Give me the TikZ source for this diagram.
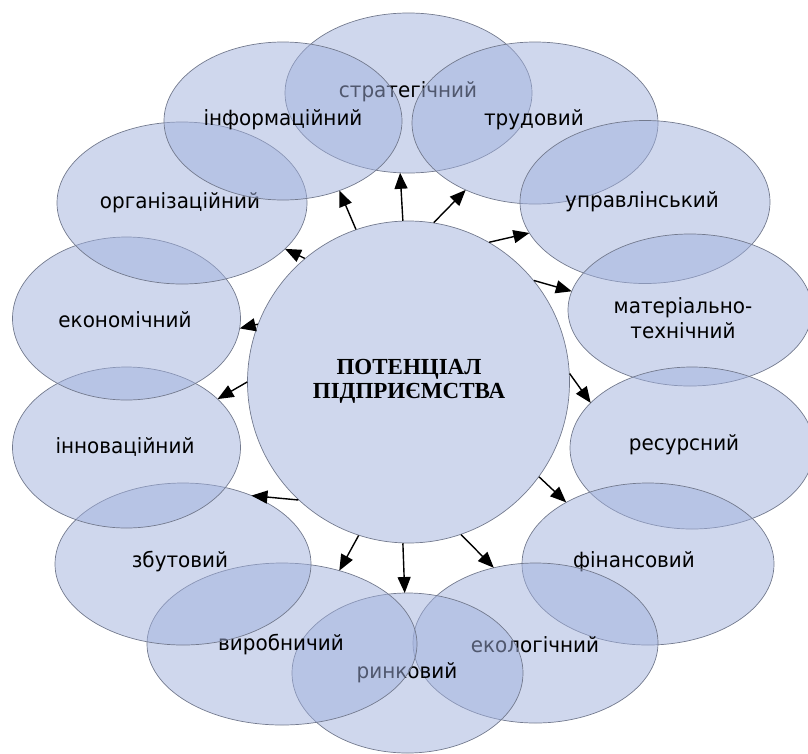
\documentclass[tikz,border=0pt]{standalone}
\usepackage{fontspec}
\setmainfont{DejaVu Sans}[FakeStretch=0.95]
\newfontfamily\titlefont{Liberation Serif}
\usetikzlibrary{shapes.geometric,arrows.meta}
\definecolor{ellfill}{RGB}{160,176,220}
\definecolor{ellline}{RGB}{115,122,142}
\begin{document}
\begin{tikzpicture}[x=1pt,y=-1pt,
  ell/.style={ellipse, draw=ellline, line width=0.7pt, fill=ellfill, fill opacity=0.5, inner sep=0pt, outer sep=0pt},
  lbl/.style={font=\fontsize{21}{25}\selectfont, text=black, align=center, inner sep=0pt},
  arr/.style={line width=1.4pt, -{Triangle[length=16pt,width=13pt]}}]
\useasboundingbox (0,0) rectangle (808,753);
% central circle
\node[circle, draw=ellline, line width=0.7pt, fill=ellfill, fill opacity=0.5, minimum size=322pt, inner sep=0pt] (c) at (408.5,382) {};
\node[font=\titlefont\bfseries\fontsize{23}{24}\selectfont, align=center, inner sep=0pt] (title) at (409,381) {ПОТЕНЦІАЛ\\ПІДПРИЄМСТВА};
% ellipses clockwise from top
\node[ell, minimum width=247pt, minimum height=160pt] (e1) at (408.5,93) {};
\node[lbl] (l1) at (408,92) {стратегічний};
\node[ell, minimum width=246pt, minimum height=162pt] (e3) at (535,123) {};
\node[lbl] (l3) at (534,120) {трудовий};
\node[ell, minimum width=250pt, minimum height=163pt] (e4) at (645,202) {};
\node[lbl] (l4) at (642,202) {управлінський};
\node[ell, minimum width=244pt, minimum height=152pt] (e5) at (690,310) {};
\node[lbl] (l5) at (683,318) {матеріально-\\технічний};
\node[ell, minimum width=244pt, minimum height=162pt] (e6) at (692,448) {};
\node[lbl] (l6) at (684,445) {ресурсний};
\node[ell, minimum width=252pt, minimum height=162pt] (e7) at (648,564) {};
\node[lbl] (l7) at (634,562) {фінансовий};
\node[ell, minimum width=245pt, minimum height=160pt] (e8) at (535.5,643) {};
\node[lbl] (l8) at (535,645) {екологічний};
\node[ell, minimum width=231pt, minimum height=160pt] (e9) at (407.5,673) {};
\node[lbl] (l9) at (407,673) {ринковий};
\node[ell, minimum width=270pt, minimum height=162pt] (e10) at (282,644) {};
\node[lbl] (l10) at (281,645) {виробничий};
\node[ell, minimum width=256pt, minimum height=162pt] (e11) at (183,564) {};
\node[lbl] (l11) at (180,562) {збутовий};
\node[ell, minimum width=228pt, minimum height=161pt] (e12) at (126.5,447.5) {};
\node[lbl] (l12) at (125,447) {інноваційний};
\node[ell, minimum width=228pt, minimum height=163pt] (e13) at (126.5,318.5) {};
\node[lbl] (l13) at (125,320) {економічний};
\node[ell, minimum width=250pt, minimum height=162pt] (e14) at (182,203) {};
\node[lbl] (l14) at (180,203) {організаційний};
\node[ell, minimum width=238pt, minimum height=158pt] (e2) at (283,121) {};
\node[lbl] (l2) at (283,120) {інформаційний};
% arrows
\draw[arr] (c.92.9) -- (e1.264);
\draw[arr] (c.109) -- (e2.-51.4);
\draw[arr] (c.81) -- (e3.224);
\draw[arr] (c.60.4) -- (e4.195.4);
\draw[arr] (c.39.8) -- (e5.171);
\draw[arr] (c.3.2) -- (e6.156);
\draw[arr] (c.-36.7) -- (e7.143);
\draw[arr] (c.-71) -- (e8.119);
\draw[arr] (c.-92) -- (e9.92);
\draw[arr] (c.-108.9) -- (e10.52);
\draw[arr] (c.-133) -- (e11.45);
\draw[arr] (c.180.4) -- (e12.28.7);
\draw[arr] (c.159) -- (e13.-5.1);
\draw[arr] (c.130.3) -- (e14.-24.2);
\end{tikzpicture}
\end{document}
